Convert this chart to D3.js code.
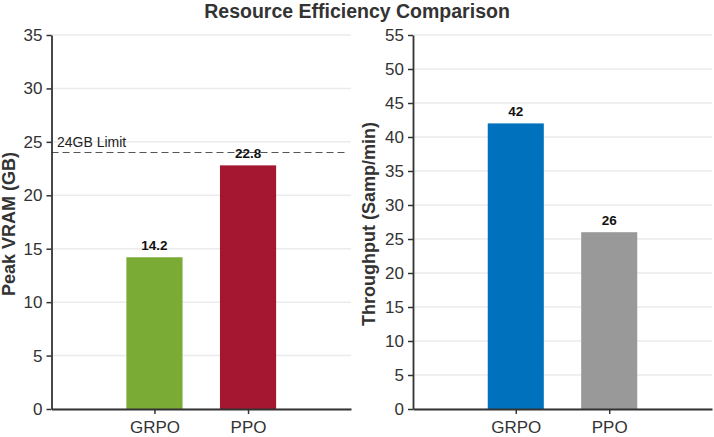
<!DOCTYPE html>
<html><head><meta charset="utf-8">
<script src="https://cdn.jsdelivr.net/npm/d3@7"></script>
<style>body{margin:0;background:#fff}svg{display:block}</style>
</head><body>
<svg id="c" width="714" height="437"></svg>
<script>
const categories = ["GRPO", "PPO"];
const vramValues = [14.2, 22.8];
const throughputValues = [42, 26];
const vramTicks = [0, 5, 10, 15, 20, 25, 30, 35];
const throughputTicks = [0, 5, 10, 15, 20, 25, 30, 35, 40, 45, 50, 55];
const vramLimit = 24;
const vramColors = ["#7aab35", "#a51731"];
const throughputColors = ["#0072bd", "#999999"];

const svg = d3.select("#c");
const font = "Liberation Sans, Arial, sans-serif";
const plotTop = 35, plotBottom = 409;

svg.append("text").attr("x", 357).attr("y", 18).attr("text-anchor", "middle")
  .attr("font-family", font).attr("font-weight", "bold").attr("font-size", 19.5)
  .attr("fill", "#333").text("Resource Efficiency Comparison");

function panel(x0, x1, maxV, ticks, values, colors, ylabel, labelX, fmt, limit) {
  const x = d3.scaleLinear().domain([-1.1, 2.1]).range([x0, x1]);
  const y = d3.scaleLinear().domain([0, maxV]).range([plotBottom, plotTop]);
  const g = svg.append("g");
  g.selectAll(".grid").data(ticks).join("line")
    .attr("x1", x0).attr("x2", x1).attr("y1", d => y(d)).attr("y2", d => y(d))
    .attr("stroke", "#ebebeb").attr("stroke-width", 1.5);
  const bw = 0.6;
  g.selectAll(".bar").data(values).join("rect")
    .attr("x", (d, i) => x(i - bw / 2)).attr("width", x(bw) - x(0))
    .attr("y", d => y(d)).attr("height", d => y(0) - y(d))
    .attr("fill", (d, i) => colors[i]);
  if (limit !== undefined) {
    g.append("line").attr("x1", x0).attr("x2", x1 - 3).attr("y1", y(limit)).attr("y2", y(limit))
      .attr("stroke", "#555").attr("stroke-width", 1.1).attr("stroke-dasharray", "7,4");
    g.append("text").attr("x", x0 + 5.5).attr("y", y(limit) - 5.5)
      .attr("font-family", font).attr("font-size", 14).attr("fill", "#222").text(limit + "GB Limit");
  }
  g.selectAll(".vl").data(values).join("text")
    .attr("x", (d, i) => x(i)).attr("y", d => y(d) - 7).attr("text-anchor", "middle")
    .attr("font-family", font).attr("font-weight", "bold").attr("font-size", 13.5)
    .attr("fill", "#111").text(d => fmt(d));
  const ya = d3.axisLeft(y).tickValues(ticks).tickSize(5).tickSizeOuter(0).tickPadding(4);
  const yg = g.append("g").attr("transform", `translate(${x0},0)`).call(ya);
  const xa = d3.axisBottom(x).tickValues([0, 1]).tickFormat(i => categories[i]).tickSize(5).tickSizeOuter(0).tickPadding(7);
  const xg = g.append("g").attr("transform", `translate(0,${plotBottom})`).call(xa);
  [yg, xg].forEach(a => {
    a.select(".domain").attr("stroke", "#333").attr("stroke-width", 1.8);
    a.selectAll(".tick line").attr("stroke", "#333").attr("stroke-width", 1.5);
    a.selectAll(".tick text").attr("font-family", font).attr("font-size", 17).attr("fill", "#333");
  });
  svg.append("text").attr("transform", `translate(${labelX},${(plotTop + plotBottom) / 2 + 2}) rotate(-90)`)
    .attr("text-anchor", "middle").attr("font-family", font).attr("font-weight", "bold")
    .attr("font-size", 18).attr("fill", "#333").text(ylabel);
}

panel(51.5, 351, 35, vramTicks, vramValues, vramColors, "Peak VRAM (GB)", 15, d => d.toFixed(1), vramLimit);
panel(413, 712, 55, throughputTicks, throughputValues, throughputColors, "Throughput (Samp/min)", 375, d => d3.format("d")(d));
</script>
</body></html>
